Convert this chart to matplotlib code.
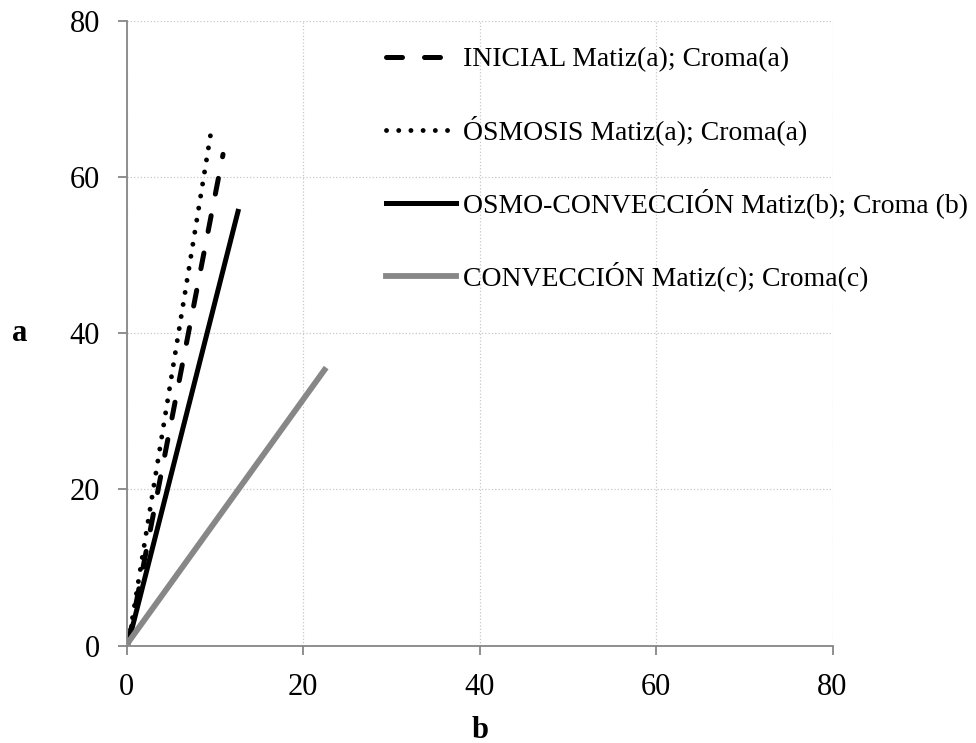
import matplotlib.pyplot as plt

plt.rcParams['font.family'] = ['Liberation Serif', 'DejaVu Serif']

# series: start and end point of each line (b, a)
labels = [
    "INICIAL Matiz(a); Croma(a)",
    "ÓSMOSIS Matiz(a); Croma(a)",
    "OSMO-CONVECCIÓN Matiz(b); Croma (b)",
    "CONVECCIÓN Matiz(c); Croma(c)",
]
b_inicial = [0.2, 10.9]
a_inicial = [0.5, 62.9]
b_osmosis = [0.2, 9.6]
a_osmosis = [0.5, 66.2]
b_osmoconv = [0.2, 12.6]
a_osmoconv = [0.5, 55.6]
b_conv = [0.2, 22.4]
a_conv = [0.5, 35.3]

ticks = [0, 20, 40, 60, 80]

fig = plt.figure(figsize=(9.76, 7.43), dpi=100)
ax = fig.add_axes([0.130, 0.131, 0.723, 0.841])

ax.plot(b_inicial, a_inicial, color="black", lw=3.6, ls=(0, (3.2, 4.4)),
        dash_capstyle="round", label=labels[0])
ax.plot(b_osmosis, a_osmosis, color="black", lw=3.5, ls=(0, (0.01, 2.5)),
        dash_capstyle="round", label=labels[1])
ax.plot(b_osmoconv, a_osmoconv, color="black", lw=3.6, label=labels[2])
ax.plot(b_conv, a_conv, color="#878787", lw=4.2, label=labels[3])

ax.set_xlim(0, 80)
ax.set_ylim(0, 80)
ax.set_xticks(ticks)
ax.set_yticks(ticks)
ax.grid(True, color="#c8c8c8", ls=":", lw=0.9)
ax.set_axisbelow(True)
for s in ["top", "right"]:
    ax.spines[s].set_visible(False)
for s in ["left", "bottom"]:
    ax.spines[s].set_color("#868686")
    ax.spines[s].set_linewidth(1.3)
ax.tick_params(axis="both", labelsize=22, color="#868686", length=6.5,
               width=1.3, direction="out", pad=13)

ax.set_xlabel("b", fontsize=22, fontweight="bold", labelpad=10)
ax.set_ylabel("a", fontsize=22, fontweight="bold", rotation=0, labelpad=36,
              va="center")

ax.legend(loc="upper left", bbox_to_anchor=(0.332, 0.998), frameon=False,
          fontsize=20, handlelength=2.5, handletextpad=0.25, labelspacing=1.55)

fig.savefig("out.png")
